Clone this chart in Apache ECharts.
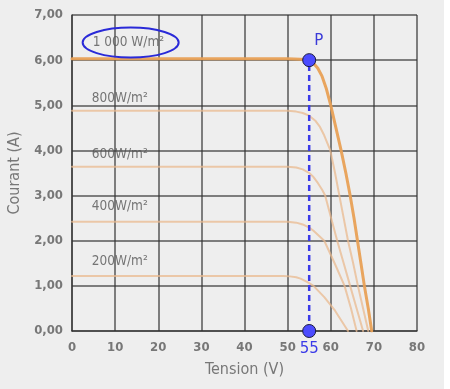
<!DOCTYPE html>
<html>
<head>
<meta charset="utf-8">
<script src="https://cdn.jsdelivr.net/npm/echarts@6/dist/echarts.min.js"></script>
<style>
html,body{margin:0;padding:0;background:#eeeeee;}
#c{width:450px;height:389px;}
</style>
</head>
<body>
<div id="c"></div>
<script>
// ---- data ----
const xTicks = [0, 10, 20, 30, 40, 50, 60, 70, 80];
const yTicks = [0, 1, 2, 3, 4, 5, 6, 7];
const irradianceLabels = ['1 000 W/m²', '800W/m²', '600W/m²', '400W/m²', '200W/m²'];
const labelAnchors = [[4.8, 6.39], [4.6, 5.15], [4.6, 3.91], [4.6, 2.75], [4.6, 1.53]];
const curve1000 = [[0,6.03],[50,6.03],[53,6.02],[54,6.01],[55,6.0],[56,5.93],[57,5.82],[58,5.64],[59,5.36],[60,5.0],[61.2,4.5],[62.4,4.0],[63.5,3.5],[64.5,3.0],[65.4,2.5],[66.2,2.0],[67,1.5],[67.8,1.0],[68.7,0.5],[69.5,0]];
const curve800 = [[0,4.88],[50,4.88],[52,4.86],[53.5,4.83],[55,4.77],[56.5,4.65],[57.5,4.52],[58.5,4.33],[59.9,4.0],[61,3.5],[62,3.0],[63,2.5],[64,2.0],[65.2,1.5],[66.3,1.0],[67.5,0.5],[68.7,0]];
const curve600 = [[0,3.64],[50,3.64],[52,3.62],[53.5,3.58],[55,3.5],[56,3.41],[57,3.28],[58,3.13],[58.7,3.0],[60.1,2.5],[61.5,2.0],[63,1.5],[64.5,1.0],[66,0.5],[67.5,0]];
const curve400 = [[0,2.42],[50,2.42],[52,2.4],[53.5,2.36],[55,2.29],[56,2.22],[57,2.13],[58.5,2.0],[60.9,1.5],[63.2,1.0],[64.7,0.5],[66,0]];
const curve200 = [[0,1.22],[49,1.22],[50.5,1.21],[52,1.19],[53,1.16],[54.5,1.09],[56,1.0],[58.5,0.75],[61,0.45],[64,0]];
const pointP = [55, 6.0];
const pointFoot = [55, 0];
const ellipseCenter = [13.6, 6.39];

const chart = echarts.init(document.getElementById('c'), null, {renderer: 'canvas'});
const gridStyle = {color: '#333', width: 1.5, opacity: 0.8};
const condensed = 'DejaVu Sans Condensed, DejaVu Sans, sans-serif';
const tickFont = {color: '#777', fontSize: 13, fontWeight: 'bold', fontFamily: condensed};

function curve(data, color, width, opacity) {
  return {type: 'line', data: data, smooth: false, showSymbol: false, silent: true,
    lineStyle: {color: color, width: width, opacity: opacity, join: 'round', cap: 'round'}, z: 3};
}

const option = {
  backgroundColor: '#eeeeee',
  animation: false,
  grid: {left: 72, right: 33, top: 15, bottom: 58, containLabel: false, outerBoundsMode: 'none'},
  xAxis: {
    type: 'value', min: xTicks[0], max: xTicks[xTicks.length-1], interval: 10,
    name: 'Tension (V)', nameLocation: 'middle', nameGap: 31,
    nameTextStyle: {color: '#777', fontSize: 16, fontFamily: condensed},
    axisLine: {lineStyle: gridStyle}, axisTick: {show: false},
    axisLabel: Object.assign({margin: 10}, tickFont),
    splitLine: {show: true, lineStyle: gridStyle}
  },
  yAxis: {
    type: 'value', min: yTicks[0], max: yTicks[yTicks.length-1], interval: 1,
    name: 'Courant (A)', nameLocation: 'middle', nameGap: 49,
    nameTextStyle: {color: '#777', fontSize: 16, fontFamily: condensed},
    axisLine: {show: true, lineStyle: gridStyle}, axisTick: {show: false},
    axisLabel: Object.assign({margin: 9, formatter: v => v.toFixed(2).replace('.', ',')}, tickFont),
    splitLine: {show: true, lineStyle: gridStyle}
  },
  series: [
    curve(curve200, '#e9b98f', 2, 0.75),
    curve(curve400, '#e9b98f', 2, 0.75),
    curve(curve600, '#e9b98f', 2, 0.75),
    curve(curve800, '#e9b98f', 2, 0.75),
    curve(curve1000, '#e8a055', 3, 0.95),
    {
      type: 'scatter', silent: true, symbolSize: 0,
      data: labelAnchors.map((p, i) => ({value: p, label: {formatter: irradianceLabels[i]}})),
      label: {show: true, position: 'right', distance: 0, color: '#555', fontSize: 13.5, fontFamily: condensed},
      z: 5
    },
    {
      type: 'line', data: [pointFoot, pointP], showSymbol: false, silent: true,
      lineStyle: {color: '#3a3ae8', width: 2.5, type: [6, 4]}, z: 6
    },
    {
      type: 'scatter', silent: true, symbolSize: 13,
      itemStyle: {color: '#4b4bff', borderColor: '#1a1a40', borderWidth: 1, opacity: 1},
      data: [
        {value: pointP, label: {show: true, formatter: 'P', position: [12, -20], color: '#3a3ad8', fontSize: 15, fontFamily: 'DejaVu Sans, sans-serif'}},
        {value: pointFoot, label: {show: true, formatter: '55', position: 'bottom', distance: 4, color: '#3a3ae8', fontSize: 15, fontFamily: 'DejaVu Sans, sans-serif'}}
      ],
      z: 8
    }
  ]
};
chart.setOption(option);

const c = chart.convertToPixel({gridIndex: 0}, ellipseCenter);
chart.setOption({
  graphic: [
    {type: 'ellipse', shape: {cx: c[0], cy: c[1], rx: 48, ry: 15},
      style: {fill: 'none', stroke: '#2a2ad8', lineWidth: 2}, z: 10},
    {type: 'rect', shape: {x: 444, y: 0, width: 6, height: 389}, style: {fill: '#ffffff'}, z: -1}
  ]
});
</script>
</body>
</html>
